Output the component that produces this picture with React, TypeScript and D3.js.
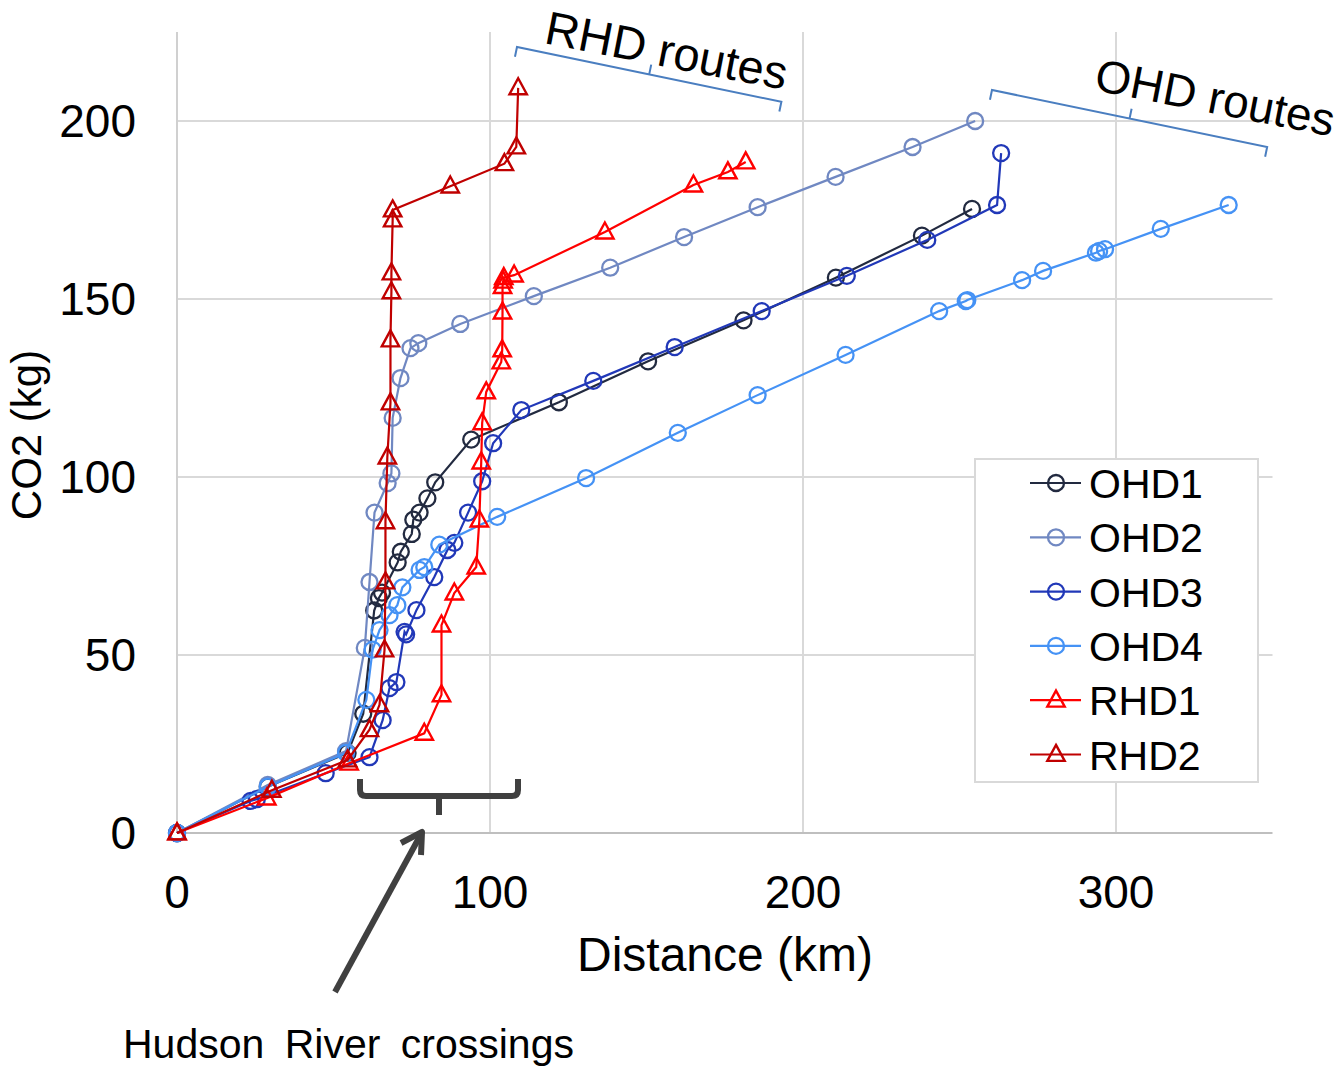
import React from "react";
import * as d3 from "d3";

type Pt = [number, number];

const OHD1: Pt[] = [[0,0],[29,13],[54.5,22.5],[59.5,33.5],[63,62.5],[64.5,66],[65.5,67.5],[70.5,76],[71.5,79],[75,84],[75.5,88],[77.5,90],[80,94],[82.5,98.5],[94,110.5],[122,121],[150.5,132.5],[181,144],[210.5,156],[238,167.8],[254,175.3]];
const OHD2: Pt[] = [[0,0],[29,13.5],[54,23],[60,52],[61.5,70.5],[63.1,90],[67.3,98.3],[68.5,101],[68.9,116.6],[71.4,127.8],[74.6,136.2],[77.1,137.6],[90.5,143],[114,150.8],[138.4,158.8],[162,167.4],[185.5,175.8],[210.4,184.3],[235,192.7],[255,200]];
const OHD3: Pt[] = [[0,0],[23.5,9],[25.5,9.5],[47.5,16.8],[61.5,21.3],[65.7,31.7],[67.9,40.7],[70.1,42.4],[72.7,56.5],[73.2,55.8],[76.5,62.6],[82.2,71.9],[86.4,79.5],[88.6,81.5],[93,90],[97.5,98.8],[101,109.5],[110,118.8],[133,127],[159,136.5],[186.8,146.6],[214,156.5],[239.7,166.6],[262,176.4],[263.3,191]];
const OHD4: Pt[] = [[0,0],[29,13],[54,22.5],[60.5,37.4],[62.5,51.5],[64.7,57],[67.9,61.2],[70.4,64],[72,69],[77.5,73.9],[79,74.7],[83.8,81],[102.3,88.8],[130.7,99.7],[160,112.4],[185.5,123],[213.6,134.3],[243.5,146.6],[252,149.4],[252.5,149.7],[270,155.3],[276.7,157.9],[293.6,163],[294.6,163.5],[296.5,164],[314.3,169.7],[336,176.4]];
const RHD1: Pt[] = [[0,0],[28.7,9.8],[55,19.6],[79,28],[84.5,38.8],[84.5,58.4],[88.6,67.4],[95.6,74.7],[96.6,87.9],[97.2,104.2],[97.5,115.2],[98.8,123.9],[103.6,132.3],[103.9,135.7],[104,146.3],[104,153.5],[104.2,155],[104.4,156],[107.7,156.7],[136.7,168.8],[165,182],[176,185.7],[181.7,188.5]];
const RHD2: Pt[] = [[0,0],[30.3,12],[54.5,20.5],[61.5,29],[64.7,36],[66.3,51.4],[66.6,70.5],[66.6,87.4],[67.2,105.6],[68.2,120.8],[68.2,138.5],[68.5,152],[68.5,157.3],[68.9,172.2],[68.9,175],[87.3,181.7],[104.6,188],[108.4,192.7],[109,209.3]];

const seriesNames = ["OHD1", "OHD2", "OHD3", "OHD4", "RHD1", "RHD2"];
const seriesData = [OHD1, OHD2, OHD3, OHD4, RHD1, RHD2];
const seriesColors = ["#222a40", "#7088c2", "#2138b8", "#4592f5", "#ff0000", "#c00000"];
const seriesMarkers = ["circle", "circle", "circle", "circle", "triangle", "triangle"];

const xTicks = [0, 100, 200, 300];
const yTicks = [0, 50, 100, 150, 200];
const xGrid = [100, 200, 300];
const yGrid = [50, 100, 150, 200];

const FONT = "'Liberation Sans', Arial, sans-serif";

function Marker({ kind, x, y, color }: { kind: string; x: number; y: number; color: string }) {
  if (kind === "circle") {
    return <circle cx={x} cy={y} r={8} fill="none" stroke={color} strokeWidth={2.3} />;
  }
  const w = 8.7, h = 16;
  const d = `M${x},${y - h * 0.6}L${x + w},${y + h * 0.4}L${x - w},${y + h * 0.4}Z`;
  return <path d={d} fill="none" stroke={color} strokeWidth={2.4} strokeLinejoin="miter" />;
}

export default function App() {
  const x = d3.scaleLinear().domain([0, 350]).range([177, 1272.5]);
  const y = d3.scaleLinear().domain([0, 225]).range([833, 32]);
  const line = d3.line<Pt>().x(d => x(d[0])).y(d => y(d[1]));

  const legX = 975, legY = 459, legW = 283, legH = 323;
  const rowY = (i: number) => 483 + i * 54.3;

  const brace = (len: number, tick: number) =>
    `M0,${tick}L0,0L${len},0L${len},${tick}M${len / 2},0L${len / 2},${-tick}`;

  return (
    <svg width={1339} height={1068} style={{ position: "absolute", left: 0, top: 0, background: "#fff" }} fontFamily={FONT}>
      <rect x={0} y={0} width={1339} height={1068} fill="#fff" />
      {yGrid.map(t => (
        <line key={"gy" + t} x1={x(0)} x2={x(350)} y1={y(t)} y2={y(t)} stroke="#d9d9d9" strokeWidth={2} />
      ))}
      {xGrid.map(t => (
        <line key={"gx" + t} x1={x(t)} x2={x(t)} y1={y(225)} y2={y(0)} stroke="#d9d9d9" strokeWidth={2} />
      ))}
      <line x1={x(0)} x2={x(0)} y1={y(225)} y2={y(0)} stroke="#d0d0d0" strokeWidth={2} />
      <line x1={x(0)} x2={x(350)} y1={y(0)} y2={y(0)} stroke="#bfbfbf" strokeWidth={2} />

      {xTicks.map(t => (
        <text key={"xt" + t} x={x(t)} y={y(0) + 75} fontSize={46} textAnchor="middle" fill="#000">{t}</text>
      ))}
      {yTicks.map(t => (
        <text key={"yt" + t} x={136} y={y(t) + 16} fontSize={46} textAnchor="end" fill="#000">{t}</text>
      ))}

      <text x={725} y={971} fontSize={48} textAnchor="middle" fill="#000">Distance (km)</text>
      <text transform="translate(41,435) rotate(-90)" fontSize={42} textAnchor="middle" fill="#000">CO2 (kg)</text>

      {seriesData.map((data, i) => (
        <g key={seriesNames[i]}>
          <path d={line(data) || ""} fill="none" stroke={seriesColors[i]} strokeWidth={2.2} />
          {data.map((p, j) => (
            <Marker key={j} kind={seriesMarkers[i]} x={x(p[0])} y={y(p[1])} color={seriesColors[i]} />
          ))}
        </g>
      ))}

      <rect x={legX} y={legY} width={legW} height={legH} fill="#fff" stroke="#d9d9d9" strokeWidth={2} />
      {seriesNames.map((n, i) => (
        <g key={"lg" + n}>
          <line x1={1030} x2={1081} y1={rowY(i)} y2={rowY(i)} stroke={seriesColors[i]} strokeWidth={2.2} />
          <Marker kind={seriesMarkers[i]} x={1056} y={rowY(i)} color={seriesColors[i]} />
          <text x={1089} y={rowY(i) + 15} fontSize={41} fill="#000">{n}</text>
        </g>
      ))}

      <g transform="translate(517,47) rotate(11.7)">
        <path d={brace(270, 10)} fill="none" stroke="#4a7ec0" strokeWidth={2} />
      </g>
      <text transform="translate(543,43) rotate(11)" fontSize={47} fill="#000">RHD routes</text>

      <g transform="translate(992,90) rotate(11.7)">
        <path d={brace(281, 10)} fill="none" stroke="#4a7ec0" strokeWidth={2} />
      </g>
      <text transform="translate(1093,90) rotate(11)" fontSize={46} fill="#000">OHD routes</text>

      <path d="M360,779L360,790Q360,796 366,796L512,796Q518,796 518,790L518,779M439,796L439,815"
        fill="none" stroke="#404040" strokeWidth={6} strokeLinecap="butt" />
      <line x1={335} y1={992} x2={420} y2={836} stroke="#404040" strokeWidth={6} />
      <path d="M401,843L422,832L421,855" fill="none" stroke="#404040" strokeWidth={6} strokeLinejoin="round" />
      <text x={123} y={1058} fontSize={41} fill="#000" wordSpacing={9}>Hudson River crossings</text>
    </svg>
  );
}
